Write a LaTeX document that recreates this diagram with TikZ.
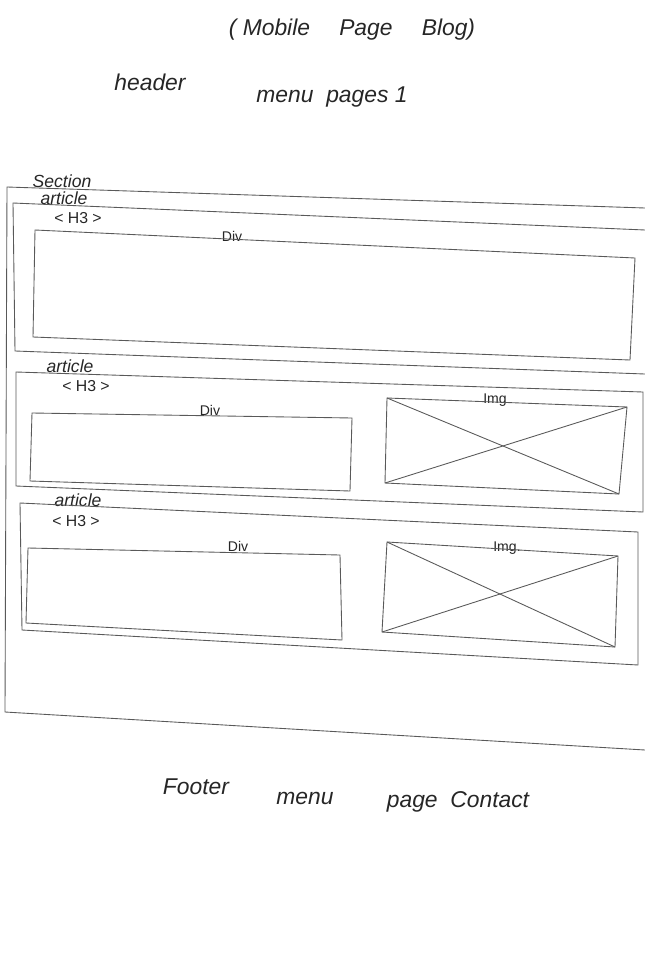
\documentclass[tikz,border=0pt]{standalone}
\usepackage{fontspec}
\setmainfont{Liberation Sans}
\begin{document}
\begin{tikzpicture}[x=0.02cm,y=-0.02cm,
  pen/.style={draw=black!65, line width=0.5pt},
  hand/.style={text=black!85, font=\fontsize{13}{13}\selectfont\itshape, inner sep=0pt},
  small/.style={text=black!85, font=\fontsize{8}{8}\selectfont, inner sep=0pt}]
\useasboundingbox (0,0) rectangle (645,960);
% texts
\node[hand] (title) at (352,30) {( Mobile \quad Page \quad Blog)};
\node[hand] (header) at (150,82) {header};
\node[hand] (menu1) at (332,97) {menu \ pages 1};
\node[hand, font=\fontsize{10}{10}\selectfont\itshape] (lsec) at (62,181) {Section};
\node[hand, font=\fontsize{10}{10}\selectfont\itshape] (la1) at (64,198) {article};
\node[hand, font=\fontsize{9}{9}\selectfont] (h1) at (78,218) {< H3 >};
\node[hand, font=\fontsize{10}{10}\selectfont\itshape] (la2) at (70,366) {article};
\node[hand, font=\fontsize{9}{9}\selectfont] (h2) at (86,386) {< H3 >};
\node[hand, font=\fontsize{10}{10}\selectfont\itshape] (la3) at (78,500) {article};
\node[hand, font=\fontsize{9}{9}\selectfont] (h3) at (76,521) {< H3 >};
\node[small] (d1) at (232,236) {Div};
\node[small] (d2) at (210,410) {Div};
\node[small] (d3) at (238,546) {Div};
\node[small] (i2) at (495,400) {Img};
\node[small] (i3) at (507,548) {Img.};
\node[hand] (footer) at (196,787) {Footer};
\node[hand] (menu2) at (305,798) {menu};
\node[hand] (pc) at (458,802) {page \ Contact};
% section
\coordinate (s1) at (7,187); \coordinate (s2) at (645,208);
\coordinate (s3) at (645,750); \coordinate (s4) at (5,712);
\draw[pen] (s2) -- (s1) -- (s4) -- (s3);
% article 1
\coordinate (a1) at (13,203); \coordinate (a2) at (645,230);
\coordinate (a3) at (645,374); \coordinate (a4) at (15,351);
\draw[pen] (a2) -- (a1) -- (a4) -- (a3);
\coordinate (b1) at (35,230); \coordinate (b2) at (635,258);
\coordinate (b3) at (630,360); \coordinate (b4) at (33,337);
\draw[pen] (b1) -- (b2) -- (b3) -- (b4) -- cycle;
% article 2
\coordinate (c1) at (16,372); \coordinate (c2) at (643,392);
\coordinate (c3) at (643,512); \coordinate (c4) at (16,486);
\draw[pen] (c1) -- (c2) -- (c3) -- (c4) -- cycle;
\coordinate (e1) at (32,413); \coordinate (e2) at (352,418);
\coordinate (e3) at (350,491); \coordinate (e4) at (30,481);
\draw[pen] (e1) -- (e2) -- (e3) -- (e4) -- cycle;
\coordinate (f1) at (387,398); \coordinate (f2) at (627,407);
\coordinate (f3) at (619,494); \coordinate (f4) at (385,483);
\draw[pen] (f1) -- (f2) -- (f3) -- (f4) -- cycle;
\draw[pen] (f1) -- (f3); \draw[pen] (f4) -- (f2);
% article 3
\coordinate (g1) at (20,503); \coordinate (g2) at (638,532);
\coordinate (g3) at (638,665); \coordinate (g4) at (22,630);
\draw[pen] (g1) -- (g2) -- (g3) -- (g4) -- cycle;
\coordinate (k1) at (28,548); \coordinate (k2) at (340,555);
\coordinate (k3) at (342,640); \coordinate (k4) at (26,623);
\draw[pen] (k1) -- (k2) -- (k3) -- (k4) -- cycle;
\coordinate (m1) at (387,542); \coordinate (m2) at (618,556);
\coordinate (m3) at (615,647); \coordinate (m4) at (382,632);
\draw[pen] (m1) -- (m2) -- (m3) -- (m4) -- cycle;
\draw[pen] (m1) -- (m3); \draw[pen] (m4) -- (m2);
\end{tikzpicture}
\end{document}
